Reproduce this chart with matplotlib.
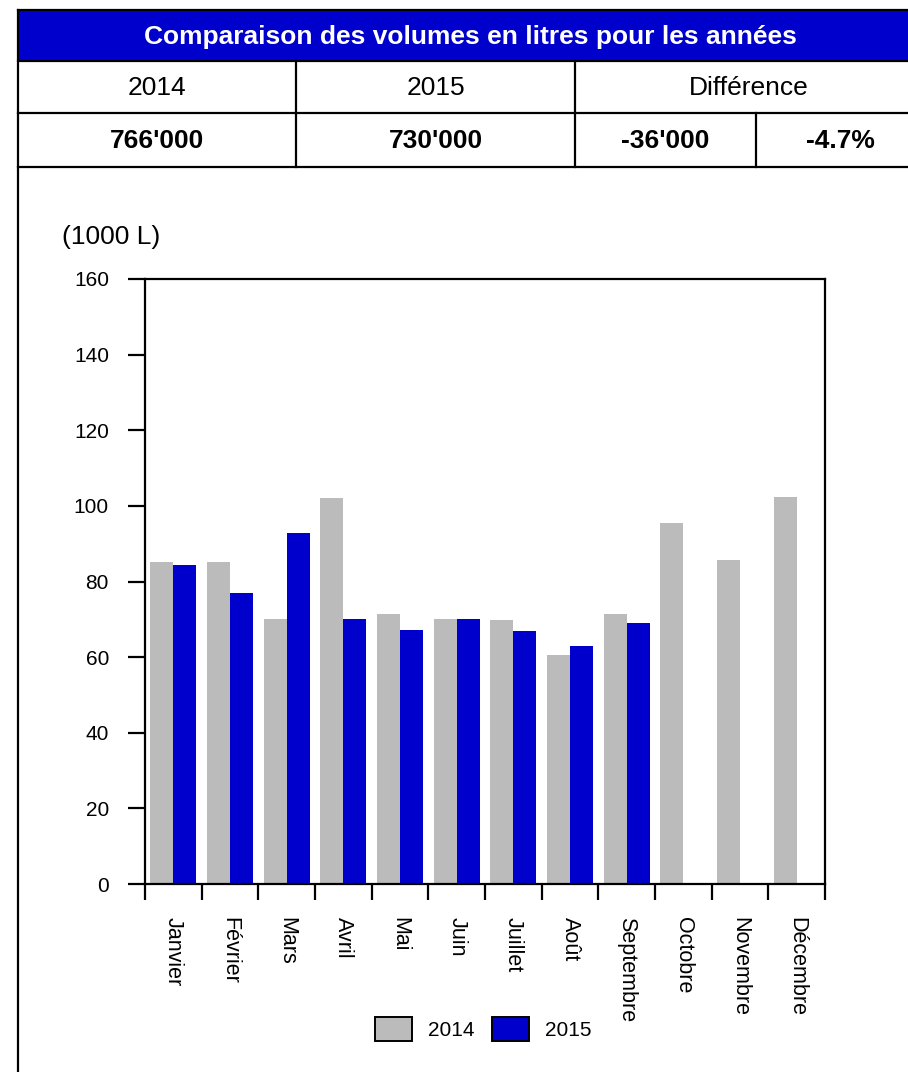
import numpy as np
import matplotlib
matplotlib.use("Agg")
import matplotlib.pyplot as plt
from matplotlib.patches import Patch, Rectangle

plt.rcParams['font.family'] = ['Liberation Sans', 'DejaVu Sans']

# Données (milliers de litres)
months = ['Janvier', 'Février', 'Mars', 'Avril', 'Mai', 'Juin', 'Juillet',
          'Août', 'Septembre', 'Octobre', 'Novembre', 'Décembre']
vol_2014 = [85.2, 85.2, 70.1, 102.1, 71.4, 70.1, 69.8, 60.6, 71.4, 95.5, 85.7, 102.4]
vol_2015 = [84.4, 77.0, 92.9, 70.1, 67.2, 70.1, 66.9, 63.0, 69.0]

title = 'Comparaison des volumes en litres pour les années'
total_2014 = "766'000"
total_2015 = "730'000"
diff_abs = "-36'000"
diff_pct = "-4.7%"

gray = '#BBBBBB'
blue = '#0000CC'

W, H = 908, 1072
fig = plt.figure(figsize=(W / 100, H / 100), dpi=100)

# --- tableau du haut (coordonnées en pixels) ---
tab = fig.add_axes([0, 0, 1, 1])
tab.set_xlim(0, W)
tab.set_ylim(H, 0)
tab.axis('off')

tab.add_patch(Rectangle((18, 10), 930, 51, facecolor=blue, edgecolor='none'))
lw = 1.6
for y in [10, 61, 113, 167]:
    tab.plot([18, 930], [y, y], color='black', lw=lw)
tab.plot([18, 18], [10, H + 5], color='black', lw=lw)
tab.plot([296, 296], [61, 167], color='black', lw=lw)
tab.plot([575, 575], [61, 167], color='black', lw=lw)
tab.plot([756, 756], [113, 167], color='black', lw=lw)

fs = 19
tab.text(470, 37, title, color='white', fontsize=fs, fontweight='bold',
         ha='center', va='center')
tab.text(157, 88, '2014', fontsize=fs, ha='center', va='center')
tab.text(436, 88, '2015', fontsize=fs, ha='center', va='center')
tab.text(749, 88, 'Différence', fontsize=fs, ha='center', va='center')
tab.text(157, 141, total_2014, fontsize=fs, fontweight='bold', ha='center', va='center')
tab.text(436, 141, total_2015, fontsize=fs, fontweight='bold', ha='center', va='center')
tab.text(665, 141, diff_abs, fontsize=fs, fontweight='bold', ha='center', va='center')
tab.text(840, 141, diff_pct, fontsize=fs, fontweight='bold', ha='center', va='center')

tab.text(62, 237, '(1000 L)', fontsize=19, ha='left', va='center')

# --- graphique ---
ax = fig.add_axes([145 / W, 1 - 884 / H, 680 / W, 605 / H])
x = np.arange(len(months))
width = 0.405
ax.bar(x - width / 2, vol_2014, width, color=gray)
ax.bar(np.arange(len(vol_2015)) + width / 2, vol_2015, width, color=blue)

ax.set_xlim(-0.5, 11.5)
ax.set_ylim(0, 160)
ax.set_yticks(np.arange(0, 161, 20))
ax.tick_params(axis='y', direction='out', length=12, width=1.6, pad=14, labelsize=15)

ax.set_xticks(x)
ax.set_xticklabels(months, rotation=270, ha='center', va='top', fontsize=15.5)
ax.tick_params(axis='x', which='major', length=0, pad=24)
ax.set_xticks(np.arange(-0.5, 12, 1), minor=True)
ax.tick_params(axis='x', which='minor', direction='out', length=11.5, width=1.6)

for s in ax.spines.values():
    s.set_linewidth(1.6)

handles = [Patch(facecolor=gray, edgecolor='black', lw=1.4, label='2014'),
           Patch(facecolor=blue, edgecolor='black', lw=1.4, label='2015')]
fig.legend(handles=handles, loc='center', bbox_to_anchor=(483.5 / W, 1 - 1029 / H),
           ncol=2, frameon=False, fontsize=15, handlelength=1.78, handleheight=1.35,
           handletextpad=0.77, columnspacing=0.82)

fig.savefig('out.png', dpi=100)
